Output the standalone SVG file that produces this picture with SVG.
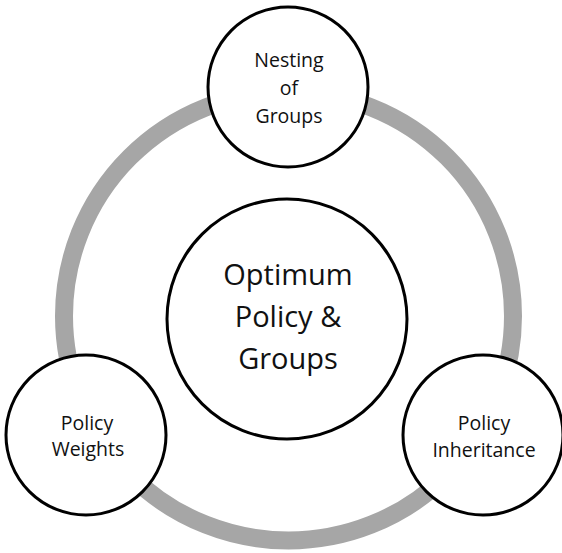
<svg xmlns="http://www.w3.org/2000/svg" width="562" height="553" viewBox="0 0 562 553">
<style>
.node{fill:#ffffff;stroke:#000000;stroke-width:3}
.ring{fill:none;stroke:#a6a6a6;stroke-width:18}
text{font-family:"Open Sans","Liberation Sans",sans-serif;fill:#111111;text-anchor:middle}
.s{font-size:19.5px}
.b{font-size:29px}
</style>
<rect width="562" height="553" fill="#ffffff"/>
<g id="connectors">
<circle class="ring" cx="288.5" cy="316" r="224.5"/>
</g>
<g id="center">
<circle class="node" cx="287" cy="319" r="120"/>
<text class="b" x="288" y="285">Optimum</text>
<text class="b" x="288" y="327">Policy &amp;</text>
<text class="b" x="288" y="369">Groups</text>
</g>
<g id="nesting">
<circle class="node" cx="288" cy="87" r="80"/>
<text class="s" x="289" y="67">Nesting</text>
<text class="s" x="289" y="95">of</text>
<text class="s" x="289" y="123">Groups</text>
</g>
<g id="weights">
<circle class="node" cx="86" cy="435" r="80"/>
<text class="s" x="87" y="430">Policy</text>
<text class="s" x="88" y="456">Weights</text>
</g>
<g id="inheritance">
<circle class="node" cx="483" cy="435" r="80"/>
<text class="s" x="484" y="430">Policy</text>
<text class="s" x="484" y="457">Inheritance</text>
</g>
</svg>
